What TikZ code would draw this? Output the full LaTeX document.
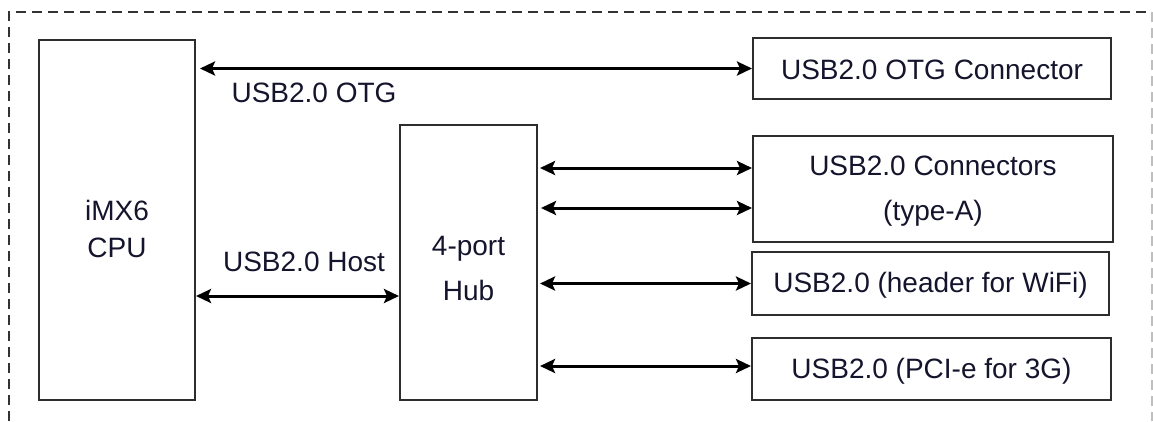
\documentclass[tikz,border=0pt]{standalone}
\usepackage{fontspec}
\setmainfont{Liberation Sans}
\usetikzlibrary{arrows.meta}
\definecolor{txtc}{RGB}{20,20,45}
\definecolor{boxc}{RGB}{45,45,45}
\tikzset{
  blk/.style={draw=boxc, line width=2pt, rectangle, inner sep=0pt},
  txt/.style={text=txtc, align=center, inner sep=0pt, font=\fontsize{28}{37}\selectfont},
  link/.style={line width=3pt, {Stealth[length=15pt,width=14pt,inset=3pt]}-{Stealth[length=15pt,width=14pt,inset=3pt]}},
  frame/.style={line width=1.3pt, dash pattern=on 10pt off 6pt},
}
\begin{document}
\begin{tikzpicture}[x=1pt,y=-1pt]
\useasboundingbox (0,0) rectangle (1153,421);
% dashed frame
\coordinate (ftl) at (9,12);
\coordinate (ftr) at (1152,12);
\coordinate (fbl) at (9,421);
\coordinate (fbr) at (1152,421);
\draw[frame, draw=black!80] (fbl) -- (ftl) -- (ftr);
\draw[frame, draw=black!25] (ftr) -- (fbr);
% boxes
\node[blk, minimum width=156, minimum height=360] (cpu) at (117,220) {};
\node[txt] (cput) at (117,229) {iMX6\\CPU};
\node[blk, minimum width=137, minimum height=275] (hub) at (468.5,262.5) {};
\node[txt, font=\fontsize{28}{45}\selectfont] (hubt) at (468.5,268) {4-port\\Hub};
\node[blk, minimum width=358, minimum height=61] (otgc) at (932,68.5) {};
\node[txt] (otgct) at (932,70) {USB2.0 OTG Connector};
\node[blk, minimum width=360, minimum height=106] (conn) at (933,189) {};
\node[txt, font=\fontsize{28}{45}\selectfont] (connt) at (933,191) {USB2.0 Connectors\\(type-A)};
\node[blk, minimum width=357, minimum height=63] (wifi) at (930.5,283.5) {};
\node[txt] (wifit) at (930.5,285) {USB2.0 (header for WiFi)};
\node[blk, minimum width=359, minimum height=62] (pcie) at (931.5,369) {};
\node[txt] (pciet) at (931.5,371) {USB2.0 (PCI-e for 3G)};
% connectors
\draw[link, shorten <=4pt] (otgc.west -| cpu.east) -- (otgc.west);
\node[txt] (otgl) at (314,93) {USB2.0 OTG};
\coordinate (hosty) at (0,296);
\draw[link] (cpu.east |- hosty) -- (hub.west |- hosty);
\node[txt] (hostl) at (304,262) {USB2.0 Host};
\coordinate (c1) at (0,168);
\coordinate (c2) at (0,208);
\draw[link, shorten <=2pt] (hub.east |- c1) -- (conn.west |- c1);
\draw[link, shorten <=3pt] (hub.east |- c2) -- (conn.west |- c2);
\draw[link, shorten <=2pt] (hub.east |- wifi.west) -- (wifi.west);
\coordinate (c4) at (0,366);
\draw[link, shorten <=2pt] (hub.east |- c4) -- (pcie.west |- c4);
\end{tikzpicture}
\end{document}
